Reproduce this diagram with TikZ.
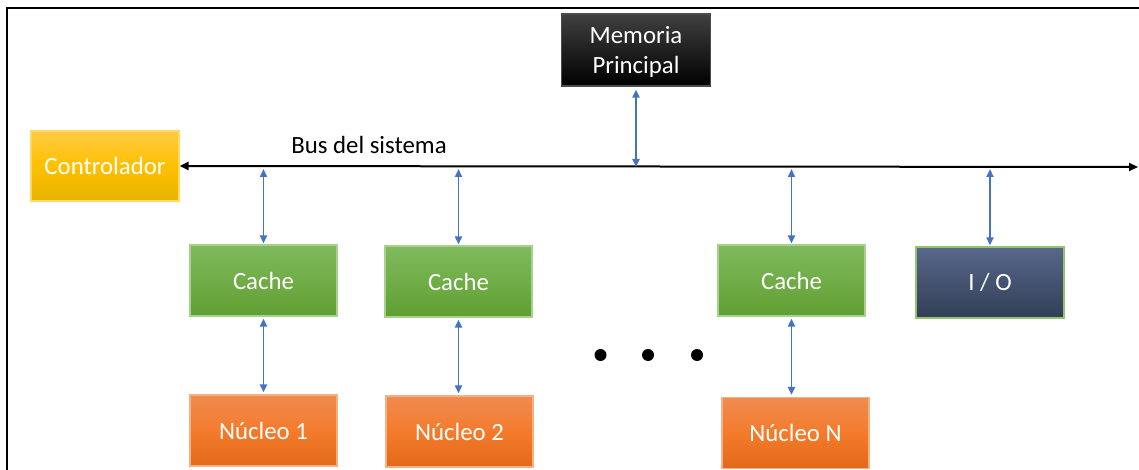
\documentclass[tikz,border=0pt]{standalone}
\usepackage{fontspec}
\setmainfont{Carlito}
\usetikzlibrary{arrows.meta,calc}

\definecolor{busblue}{HTML}{4472C4}
\definecolor{ctrlTop}{HTML}{FFCB45}
\definecolor{ctrlMid}{HTML}{FFC000}
\definecolor{ctrlBot}{HTML}{E6B400}
\definecolor{ctrlEdge}{HTML}{FFD966}
\definecolor{cacheTop}{HTML}{80BA5E}
\definecolor{cacheMid}{HTML}{70AD47}
\definecolor{cacheBot}{HTML}{609F33}
\definecolor{cacheEdge}{HTML}{A9D18E}
\definecolor{coreTop}{HTML}{F08B52}
\definecolor{coreMid}{HTML}{F47B2C}
\definecolor{coreBot}{HTML}{E2691A}
\definecolor{coreEdge}{HTML}{F4B183}
\definecolor{ioTop}{HTML}{58688A}
\definecolor{ioBot}{HTML}{323E56}
\definecolor{ioEdge}{HTML}{92C46F}
\definecolor{memTop}{HTML}{404040}
\definecolor{memBot}{HTML}{000000}

\tikzset{
  unitbox/.style={rectangle, inner sep=0pt, text=white, align=center,
    font=\fontsize{24.8}{30}\selectfont, line width=1.2pt},
  ctrlbox/.style={unitbox, minimum width=148pt, minimum height=70pt,
    top color=ctrlTop, bottom color=ctrlBot, middle color=ctrlMid, draw=ctrlEdge},
  cachebox/.style={unitbox, minimum width=147pt, minimum height=71pt,
    top color=cacheTop, bottom color=cacheBot, middle color=cacheMid, draw=cacheEdge},
  corebox/.style={unitbox, minimum width=147pt, minimum height=71pt,
    top color=coreTop, bottom color=coreBot, middle color=coreMid, draw=coreEdge},
  iobox/.style={unitbox, minimum width=148pt, minimum height=71pt,
    top color=ioTop, bottom color=ioBot, draw=ioEdge},
  membox/.style={unitbox, minimum width=149pt, minimum height=72pt,
    top color=memTop, bottom color=memBot, draw=black!70},
  link/.style={draw=busblue, line width=1.9pt,
    {Triangle[length=8pt,width=7pt]}-{Triangle[length=8pt,width=7pt]}},
  sysbus/.style={draw=black, line width=2pt,
    {Triangle[length=9pt,width=8pt]}-{Triangle[length=9pt,width=8pt]}},
  dot/.style={circle, fill=black, inner sep=0pt, minimum size=12pt},
}

\begin{document}
\begin{tikzpicture}[x=1pt,y=-1pt]
  \useasboundingbox (0,0) rectangle (1139,470);
  % outer frame (left and top edges)
  \draw[line width=2.5pt] (7,470) -- (7,8) -- (1139,8);

  % components
  \node[ctrlbox]  (ctrl)  at (105,166)   {Controlador};
  \node[membox]   (mem)   at (636,50)    {};
  \node[text=white, align=center, font=\fontsize{24.8}{30}\selectfont]
        (memlbl) at (636,52) {Memoria\\Principal};
  \node[cachebox] (c1)    at (263.5,280.5) {Cache};
  \node[cachebox] (c2)    at (458.5,281.5) {Cache};
  \node[cachebox] (cn)    at (791.5,280.5) {Cache};
  \node[iobox]    (io)    at (990,282.5) {I / O};
  \node[corebox]  (n1)    at (263.5,430.5) {Núcleo 1};
  \node[corebox]  (n2)    at (459.5,431.5) {Núcleo 2};
  \node[corebox]  (nn)    at (795.5,433)   {Núcleo N};

  % system bus
  \coordinate (busR) at (1138,167);
  \draw[sysbus] (ctrl.east) -- (busR);
  \node[font=\fontsize{24.8}{30}\selectfont] (buslbl) at (369,145) {Bus del sistema};

  % bus connections
  \draw[link, shorten <=3pt] (mem.south) -- (mem.south |- busR);
  \draw[link, shorten >=1pt] ($(c1.north |- busR)+(0,2)$) -- (c1.north);
  \draw[link, shorten >=1pt] ($(c2.north |- busR)+(0,2)$) -- (c2.north);
  \draw[link, shorten >=1pt] ($(cn.north |- busR)+(0,2)$) -- (cn.north);
  \draw[link, shorten >=1pt] ($(io.north |- busR)+(0,2)$) -- (io.north);

  % cache to core connections
  \draw[link, shorten <=2pt, shorten >=2pt] (c1.south) -- (n1.north -| c1.south);
  \draw[link, shorten <=2pt, shorten >=2pt] (c2.south) -- (n2.north -| c2.south);
  \draw[link, shorten <=2pt, shorten >=2pt] (cn.south) -- (nn.north -| cn.south);

  % ellipsis
  \node[dot] (d1) at (600.5,355) {};
  \node[dot] (d2) at (648,355) {};
  \node[dot] (d3) at (697,355) {};
\end{tikzpicture}
\end{document}
